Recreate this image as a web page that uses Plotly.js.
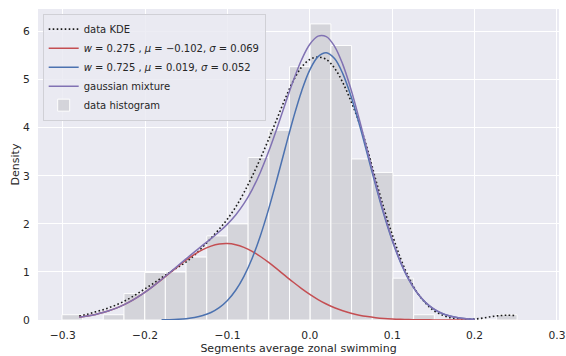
<!DOCTYPE html>
<html>
<head>
<meta charset="utf-8">
<script src="https://cdn.plot.ly/plotly-3.0.1.min.js"></script>
<style>html,body{margin:0;padding:0;background:#fff;}#chart{width:566px;height:356px;}</style>
</head>
<body>
<div id="chart"></div>
<script>
// ---- data ----
// histogram (22 bins, density)
var binCenters = [-0.28844, -0.26332, -0.2382, -0.21308, -0.18796, -0.16284, -0.13772, -0.1126, -0.08748, -0.06236, -0.03724, -0.01212, 0.013, 0.03812, 0.06324, 0.08836, 0.11348, 0.1386, 0.16372, 0.18884, 0.21396, 0.23908];
var binDensity = [0.11, 0, 0.11, 0.55, 0.99, 1.0, 1.31, 1.75, 2.0, 3.38, 3.95, 5.27, 6.16, 5.71, 3.35, 3.07, 0.87, 0.11, 0, 0, 0, 0.11];

// KDE curve
var kdeX = [-0.28, -0.27, -0.26, -0.25, -0.24, -0.23, -0.22, -0.21, -0.20, -0.19, -0.18, -0.17, -0.16, -0.15, -0.14, -0.13, -0.12, -0.11, -0.10, -0.09, -0.08, -0.07, -0.06, -0.05, -0.04, -0.03, -0.02, -0.01, 0.00, 0.01, 0.02, 0.03, 0.04, 0.05, 0.06, 0.07, 0.08, 0.09, 0.10, 0.11, 0.12, 0.13, 0.14, 0.15, 0.16, 0.17, 0.18, 0.19, 0.20, 0.21, 0.22, 0.23, 0.24, 0.25];
var kdeY = [0.08, 0.12, 0.17, 0.22, 0.28, 0.35, 0.44, 0.54, 0.65, 0.76, 0.88, 0.99, 1.10, 1.21, 1.35, 1.52, 1.70, 1.89, 2.10, 2.35, 2.65, 2.99, 3.36, 3.76, 4.18, 4.60, 4.98, 5.26, 5.42, 5.47, 5.42, 5.24, 4.94, 4.55, 4.10, 3.55, 2.92, 2.32, 1.78, 1.29, 0.89, 0.58, 0.36, 0.20, 0.11, 0.05, 0.03, 0.02, 0.02, 0.04, 0.07, 0.09, 0.10, 0.09];

// gaussian components & mixture
var gaussX = [-0.28, -0.27, -0.26, -0.25, -0.24, -0.23, -0.22, -0.21, -0.20, -0.19, -0.18, -0.17, -0.16, -0.15, -0.14, -0.13, -0.12, -0.11, -0.10, -0.09, -0.08, -0.07, -0.06, -0.05, -0.04, -0.03, -0.02, -0.01, 0.00, 0.01, 0.02, 0.03, 0.04, 0.05, 0.06, 0.07, 0.08, 0.09, 0.10, 0.11, 0.12, 0.13, 0.14, 0.15, 0.16, 0.17, 0.18, 0.19, 0.20];
var redY = [0.0571, 0.0821, 0.1155, 0.1594, 0.2152, 0.2846, 0.3684, 0.4671, 0.5799, 0.7050, 0.8392, 0.9784, 1.1168, 1.2483, 1.3663, 1.4643, 1.5368, 1.5793, 1.5893, 1.5661, 1.5112, 1.4279, 1.3211, 1.1970, 1.0619, 0.9225, 0.7847, 0.6537, 0.5332, 0.4259, 0.3331, 0.2551, 0.1913, 0.1405, 0.1010, 0.0711, 0.0491, 0.0331, 0.0219, 0.0142, 0.0090, 0.0056, 0.0034, 0.0020, 0.0011, 0.0006, 0.0003, 0.0002, 0.0001];
var blueY = [null, null, null, null, null, null, null, null, null, null, 0.0037, 0.0075, 0.0149, 0.0283, 0.0519, 0.0917, 0.1561, 0.2564, 0.4055, 0.6182, 0.9083, 1.2858, 1.7542, 2.3063, 2.9221, 3.5681, 4.1986, 4.7611, 5.2030, 5.4795, 5.5612, 5.4391, 5.1266, 4.6566, 4.0762, 3.4385, 2.7953, 2.1899, 1.6533, 1.2029, 0.8434, 0.5699, 0.3711, 0.2328, 0.1408, 0.0821, 0.0461, 0.0250, 0.0130];
var mixY = [0.0571, 0.0821, 0.1155, 0.1594, 0.2152, 0.2846, 0.3685, 0.4674, 0.5807, 0.7067, 0.8429, 0.9859, 1.1317, 1.2766, 1.4182, 1.5560, 1.6929, 1.8357, 1.9948, 2.1843, 2.4195, 2.7137, 3.0753, 3.5033, 3.9840, 4.4906, 4.9833, 5.4148, 5.7362, 5.9054, 5.8943, 5.6942, 5.3179, 4.7971, 4.1772, 3.5096, 2.8444, 2.2230, 1.6752, 1.2171, 0.8524, 0.5755, 0.3745, 0.2348, 0.1419, 0.0827, 0.0464, 0.0252, 0.0131];

// legend names
var seriesNames = [
  "data KDE",
  "<i>w</i> = 0.275 , <i>μ</i> = −0.102, <i>σ</i> = 0.069",
  "<i>w</i> = 0.725 , <i>μ</i> = 0.019, <i>σ</i> = 0.052",
  "gaussian mixture",
  "data histogram"
];

// tick labels
var xTickVals = [-0.3, -0.2, -0.1, 0.0, 0.1, 0.2, 0.3];
var xTickText = ["−0.3", "−0.2", "−0.1", "0.0", "0.1", "0.2", "0.3"];
var yTickVals = [0, 1, 2, 3, 4, 5, 6];
var yTickText = ["0", "1", "2", "3", "4", "5", "6"];

// ---- chart ----
var FONT = "DejaVu Sans, Liberation Sans, sans-serif";
var TXT = "#262626";

var traces = [
  {type: "scatter", mode: "lines", x: kdeX, y: kdeY, name: seriesNames[0],
   line: {color: "#1a1a1a", width: 1.6, dash: "1.6px,2.4px", shape: "spline"}},
  {type: "scatter", mode: "lines", x: gaussX, y: redY, name: seriesNames[1],
   line: {color: "#C44E52", width: 1.5, shape: "spline"}},
  {type: "scatter", mode: "lines", x: gaussX, y: blueY, name: seriesNames[2], connectgaps: false,
   line: {color: "#4C72B0", width: 1.5, shape: "spline"}},
  {type: "scatter", mode: "lines", x: gaussX, y: mixY, name: seriesNames[3],
   line: {color: "#8172B3", width: 1.5, shape: "spline"}},
  {type: "bar", x: binCenters, y: binDensity, name: seriesNames[4], width: 0.02512,
   marker: {color: "rgba(198,198,203,0.62)", line: {color: "rgba(255,255,255,0.95)", width: 1}}}
];

var layout = {
  width: 566, height: 356,
  margin: {l: 38, r: 7, t: 9, b: 36, pad: 0},
  paper_bgcolor: "#ffffff",
  plot_bgcolor: "#EAEAF2",
  font: {family: FONT, size: 11, color: TXT},
  showlegend: true,
  bargap: 0,
  xaxis: {
    range: [-0.330, 0.3025],
    tickmode: "array", tickvals: xTickVals, ticktext: xTickText,
    showgrid: true, gridcolor: "#ffffff", gridwidth: 1,
    zeroline: false, showline: false,
    ticks: "outside", ticklen: 5, tickcolor: "rgba(0,0,0,0)",
    tickfont: {family: FONT, size: 10.7, color: TXT},
    title: {text: "Segments average zonal swimming", font: {family: FONT, size: 11, color: TXT}, standoff: 1}
  },
  yaxis: {
    range: [0, 6.47],
    tickmode: "array", tickvals: yTickVals, ticktext: yTickText,
    showgrid: true, gridcolor: "#ffffff", gridwidth: 1,
    zeroline: false, showline: false,
    ticks: "outside", ticklen: 5, tickcolor: "rgba(0,0,0,0)",
    tickfont: {family: FONT, size: 10.7, color: TXT},
    title: {text: "Density", font: {family: FONT, size: 11, color: TXT}, standoff: 1}
  },
  legend: {
    x: 0.009, y: 0.985, xanchor: "left", yanchor: "top",
    bgcolor: "rgba(234,234,242,0.85)", bordercolor: "#d0d0d6", borderwidth: 1,
    font: {family: FONT, size: 10, color: TXT},
    traceorder: "normal", tracegroupgap: 0,
    itemwidth: 30
  }
};

Plotly.newPlot("chart", traces, layout, {displayModeBar: false, staticPlot: true});
</script>
</body>
</html>
